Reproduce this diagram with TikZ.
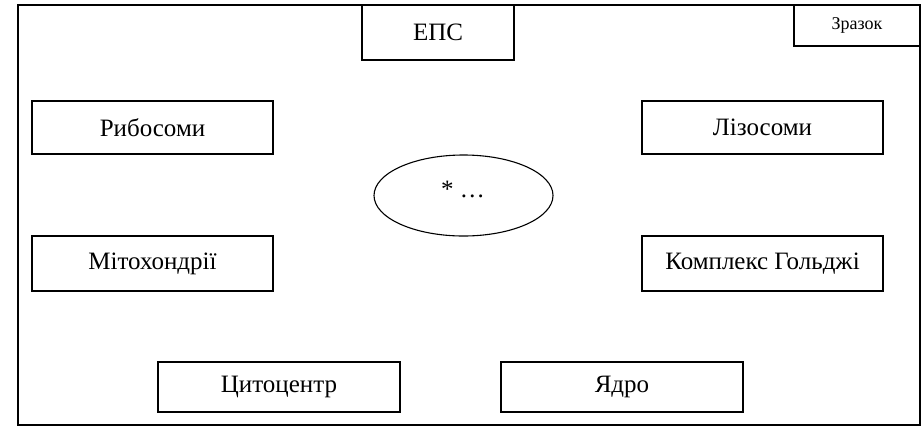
\documentclass[tikz,border=0pt]{standalone}
\usepackage{fontspec}
\setmainfont{Liberation Serif}
\usetikzlibrary{shapes.geometric}
\begin{document}
\begin{tikzpicture}[x=1pt,y=-1pt,
  box/.style={draw, line width=1.1pt, rectangle, inner sep=0pt, font=\fontsize{25}{30}\selectfont},
  smallbox/.style={draw, line width=1.1pt, rectangle, inner sep=0pt, font=\fontsize{18}{22}\selectfont},
  oval/.style={draw, line width=1.1pt, ellipse, inner sep=0pt}]
\useasboundingbox (0,0) rectangle (923,426);
\node[draw, line width=1.1pt, rectangle, inner sep=0pt, minimum width=902pt, minimum height=420pt] (frame) at (469,215) {};
\node[box, minimum width=152pt, minimum height=55pt] (eps) at (438,32.5) {ЕПС};
\node[smallbox, minimum width=126pt, minimum height=41pt] (zrazok) at (857,25.5) {Зразок};
\node[box, minimum width=241pt, minimum height=53pt] (ribo) at (152.5,127.5) {Рибосоми};
\node[box, minimum width=241pt, minimum height=55pt] (mito) at (152.5,263.5) {Мітохондрії};
\node[box, minimum width=241pt, minimum height=53pt] (lizo) at (762.5,127.5) {Лізосоми};
\node[box, minimum width=241pt, minimum height=55pt] (golgi) at (762.5,263.5) {Комплекс Гольджі};
\node[box, minimum width=242pt, minimum height=50pt] (cyto) at (279,387) {Цитоцентр};
\node[box, minimum width=242pt, minimum height=50pt] (yadro) at (622,387) {Ядро};
\node[oval, minimum width=179pt, minimum height=81pt] (centre) at (463.5,195.5) {};
\node[anchor=base, inner sep=0pt, font=\fontsize{25}{30}\selectfont] (txt) at (463,197) {* …};
\end{tikzpicture}
\end{document}
